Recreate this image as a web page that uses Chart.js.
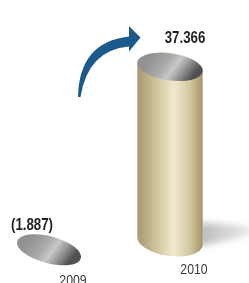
<!DOCTYPE html>
<html><head><meta charset="utf-8">
<script src="https://cdn.jsdelivr.net/npm/chart.js@4/dist/chart.umd.min.js"></script>
<style>html,body{margin:0;padding:0;background:#fff;}#wrap{width:249px;height:283px;position:relative;}</style>
</head><body><div id="wrap"><canvas id="c" width="249" height="283"></canvas></div>
<script>
const categories = ['2009', '2010'];
const values = [-1.887, 37.366];
const valueLabels = ['(1.887)', '37.366'];

const FONT = "'Liberation Sans', Arial, sans-serif";

function narrowText(ctx, text, x, y, font, color, sx) {
  ctx.save();
  ctx.font = font;
  ctx.fillStyle = color;
  ctx.textAlign = 'center';
  ctx.textBaseline = 'middle';
  ctx.translate(x, y);
  ctx.scale(sx, 1);
  ctx.fillText(text, 0, 0);
  ctx.restore();
}

function topFace(ctx, cx, cy, rx, ry, rot) {
  ctx.save();
  ctx.beginPath();
  ctx.ellipse(cx, cy, rx, ry, rot, 0, Math.PI * 2);
  const g = ctx.createLinearGradient(cx - rx * 0.5, cy - ry, cx + rx * 0.6, cy + ry);
  g.addColorStop(0, '#929292');
  g.addColorStop(0.35, '#aaaaaa');
  g.addColorStop(0.55, '#c8c8c8');
  g.addColorStop(0.78, '#8e8e8e');
  g.addColorStop(1, '#505050');
  ctx.fillStyle = g;
  ctx.fill();
  ctx.restore();
}

const cylPlugin = {
  id: 'cyl',
  afterDatasetsDraw(chart) {
    const ctx = chart.ctx;
    const meta = chart.getDatasetMeta(0);
    const rot = 0.14;
    meta.data.forEach((el, i) => {
      const x = el.x, w = el.width, rx = w / 2;
      const v = values[i];
      if (v > 0) {
        const top = el.y, base = el.base;
        // shadow
        ctx.save();
        ctx.filter = 'blur(3px)';
        const sg = ctx.createLinearGradient(x + rx, 0, x + rx + 50, 0);
        sg.addColorStop(0, 'rgba(160,160,160,0.7)');
        sg.addColorStop(1, 'rgba(195,195,195,0.35)');
        ctx.fillStyle = sg;
        ctx.beginPath();
        ctx.moveTo(x + rx - 4, base - 18);
        ctx.quadraticCurveTo(x + rx + 30, base - 19, x + rx + 52, base - 12);
        ctx.lineTo(x + rx + 52, base - 7);
        ctx.quadraticCurveTo(x + rx + 25, base + 0, x + rx - 4, base + 5);
        ctx.closePath();
        ctx.fill();
        ctx.restore();
        // body
        ctx.save();
        const bg = ctx.createLinearGradient(x - rx, 0, x + rx, 0);
        bg.addColorStop(0, '#a69870');
        bg.addColorStop(0.25, '#c9bd96');
        bg.addColorStop(0.55, '#f0e9cd');
        bg.addColorStop(0.8, '#d3c8a2');
        bg.addColorStop(1, '#a29369');
        ctx.fillStyle = bg;
        ctx.beginPath();
        ctx.ellipse(x, top, rx, 14, rot, Math.PI, 0, false);
        ctx.ellipse(x, base, rx, 15, rot, 0, Math.PI, false);
        ctx.closePath();
        ctx.fill();
        ctx.restore();
        topFace(ctx, x, top, rx, 13.5, rot);
        narrowText(ctx, valueLabels[i], x + 15, top - 28, 'bold 16px ' + FONT, '#231f20', 0.83);
      } else {
        const y = el.y;
        topFace(ctx, x, y, rx, 13.5, 0.26);
        narrowText(ctx, valueLabels[i], x - 17, y - 24, 'bold 16px ' + FONT, '#231f20', 0.83);
      }
      narrowText(ctx, categories[i], x + 24, Math.max(el.y, el.base) + (v > 0 ? 28.5 : 31.5), '15px ' + FONT, '#3a3a3a', 0.82);
    });
    // arrow
    ctx.save();
    ctx.fillStyle = '#1b5a8b';
    ctx.beginPath();
    ctx.moveTo(78, 97);
    ctx.quadraticCurveTo(79, 42, 129, 36.5);
    ctx.lineTo(129, 26);
    ctx.lineTo(140.5, 37.5);
    ctx.lineTo(129, 51.5);
    ctx.lineTo(129, 46.5);
    ctx.quadraticCurveTo(88, 50, 80.5, 97);
    ctx.closePath();
    ctx.fill();
    ctx.restore();
  }
};

new Chart(document.getElementById('c'), {
  type: 'bar',
  data: {
    labels: categories,
    datasets: [{
      data: values,
      backgroundColor: 'rgba(0,0,0,0)',
      borderWidth: 0,
      barThickness: 66
    }]
  },
  options: {
    responsive: false,
    animation: false,
    devicePixelRatio: 1,
    layout: { padding: { left: 49, right: 79, top: 45.4, bottom: 18.7 } },
    plugins: { legend: { display: false }, tooltip: { enabled: false } },
    scales: {
      x: { display: false, offset: false },
      y: { display: false, min: -5, max: 42 }
    }
  },
  plugins: [cylPlugin]
});
</script>
</body></html>
